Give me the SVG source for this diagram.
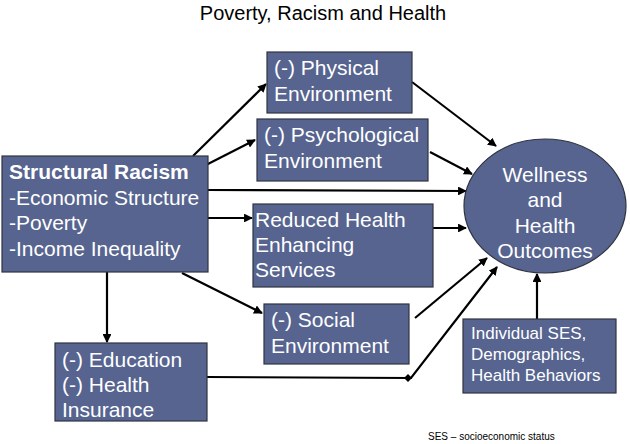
<svg xmlns="http://www.w3.org/2000/svg" width="630" height="444" viewBox="0 0 630 444">
<style>
.box{fill:#56648f;stroke:#2f3440;stroke-width:1.2}
.t{font-family:"Liberation Sans",Arial,sans-serif;font-size:21px;fill:#ffffff}
.s{font-family:"Liberation Sans",Arial,sans-serif;font-size:17px;fill:#ffffff}
.c{stroke:#000;stroke-width:2.2;fill:none}
</style>
<defs>
<marker id="ah" viewBox="0 0 10 10" refX="9" refY="5" markerWidth="4" markerHeight="4" orient="auto" markerUnits="strokeWidth">
<path d="M0,0 L10,5 L0,10 z" fill="#000"/>
</marker>
</defs>
<rect width="630" height="444" fill="#ffffff"/>
<text x="323" y="20" text-anchor="middle" font-family="Liberation Sans,Arial,sans-serif" font-size="20" fill="#000">Poverty, Racism and Health</text>

<g id="connectors">
<line class="c" x1="193" y1="156" x2="266" y2="84" marker-end="url(#ah)"/>
<line class="c" x1="204" y1="166" x2="255" y2="140" marker-end="url(#ah)"/>
<line class="c" x1="208" y1="190" x2="466" y2="191" marker-end="url(#ah)"/>
<line class="c" x1="208" y1="218" x2="252" y2="218" marker-end="url(#ah)"/>
<line class="c" x1="182" y1="273" x2="262" y2="313" marker-end="url(#ah)"/>
<line class="c" x1="107" y1="272" x2="107" y2="342" marker-end="url(#ah)"/>
<line class="c" x1="412" y1="82" x2="496" y2="146" marker-end="url(#ah)"/>
<line class="c" x1="430" y1="152" x2="472" y2="174" marker-end="url(#ah)"/>
<line class="c" x1="433" y1="228" x2="466" y2="228" marker-end="url(#ah)"/>
<line class="c" x1="415" y1="318" x2="487" y2="258" marker-end="url(#ah)"/>
<polyline class="c" points="207,377 411,378 497,267" marker-end="url(#ah)"/>
<path d="M408,374 L412,378 L408,382 L404,378 z" fill="#000"/>
<line class="c" x1="537" y1="319" x2="537" y2="274" marker-end="url(#ah)"/>
</g>

<g id="structural">
<rect class="box" x="2" y="156" width="206" height="116"/>
<text class="t" x="9" y="179" font-weight="bold">Structural Racism</text>
<text class="t" x="9" y="205">-Economic Structure</text>
<text class="t" x="9" y="230">-Poverty</text>
<text class="t" x="9" y="256">-Income Inequality</text>
</g>

<g id="physical">
<rect class="box" x="267" y="52" width="145" height="61"/>
<text class="t" x="274" y="75">(-) Physical</text>
<text class="t" x="274" y="101">Environment</text>
</g>

<g id="psychological">
<rect class="box" x="257" y="119" width="171" height="62"/>
<text class="t" x="264" y="142">(-) Psychological</text>
<text class="t" x="264" y="168">Environment</text>
</g>

<g id="services">
<rect class="box" x="253" y="204" width="180" height="83"/>
<text class="t" x="255" y="227">Reduced Health</text>
<text class="t" x="255" y="252">Enhancing</text>
<text class="t" x="255" y="277">Services</text>
</g>

<g id="social">
<rect class="box" x="264" y="304" width="145" height="60"/>
<text class="t" x="271" y="327">(-) Social</text>
<text class="t" x="271" y="353">Environment</text>
</g>

<g id="education">
<rect class="box" x="55" y="343" width="152" height="78"/>
<text class="t" x="62" y="367">(-) Education</text>
<text class="t" x="62" y="392">(-) Health</text>
<text class="t" x="62" y="417">Insurance</text>
</g>

<g id="wellness">
<ellipse class="box" cx="545" cy="206" rx="81" ry="67"/>
<text class="t" x="545" y="182" text-anchor="middle">Wellness</text>
<text class="t" x="545" y="207" text-anchor="middle">and</text>
<text class="t" x="545" y="233" text-anchor="middle">Health</text>
<text class="t" x="545" y="258" text-anchor="middle">Outcomes</text>
</g>

<g id="individual">
<rect class="box" x="463" y="319" width="153" height="74"/>
<text class="s" x="471" y="339">Individual SES,</text>
<text class="s" x="471" y="360">Demographics,</text>
<text class="s" x="471" y="381">Health Behaviors</text>
</g>

<text x="428" y="440" font-family="Liberation Sans,Arial,sans-serif" font-size="10" fill="#000">SES – socioeconomic status</text>
</svg>
